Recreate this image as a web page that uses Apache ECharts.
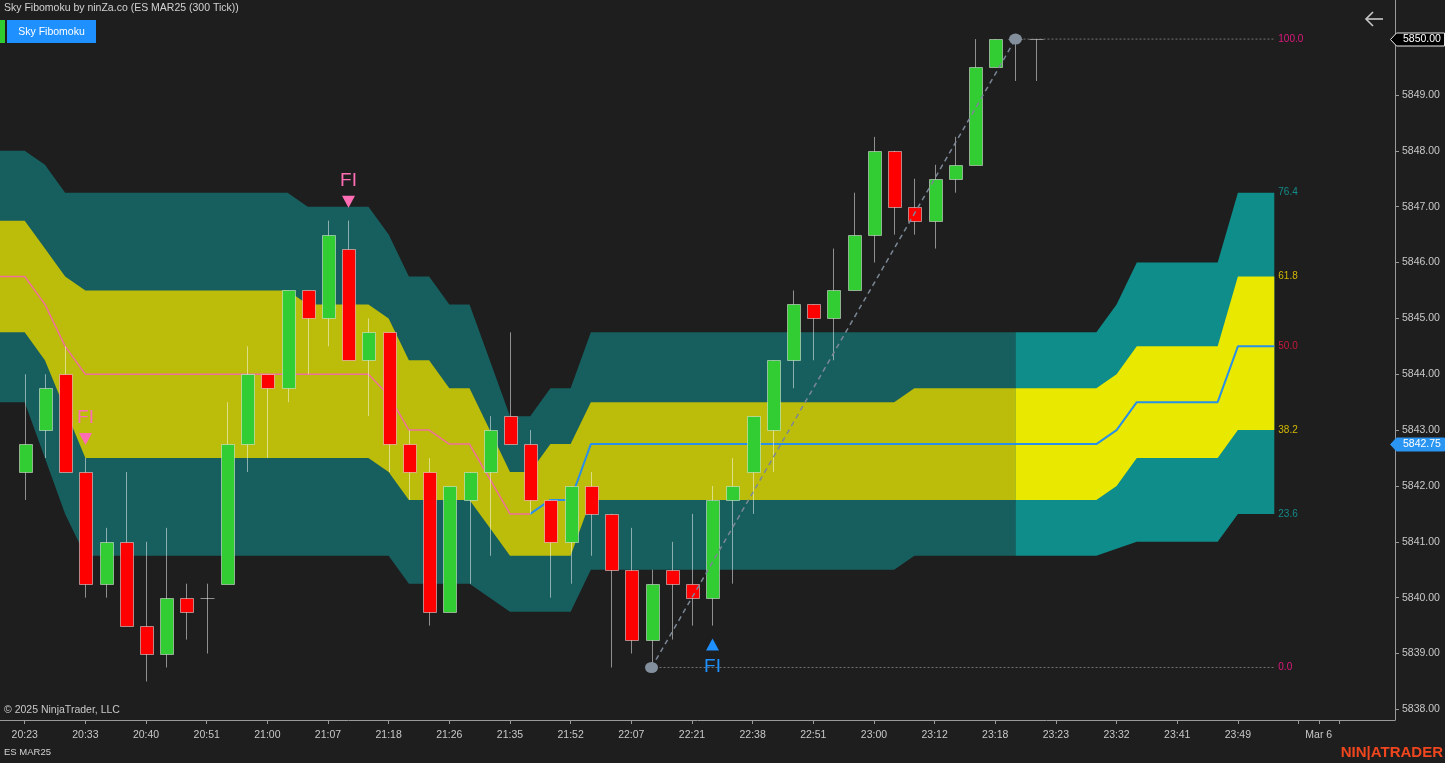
<!DOCTYPE html>
<html><head><meta charset="utf-8">
<script src="https://cdn.jsdelivr.net/npm/echarts@6/dist/echarts.min.js"></script>
<style>html,body{margin:0;padding:0;background:#1e1e1e;overflow:hidden}#c{width:1445px;height:763px}</style>
</head><body><div id="c"></div>
<script>
// ---------------- DATA ----------------
const timeLabels = ['20:23','20:33','20:40','20:51','21:00','21:07','21:18','21:26','21:35','21:52','22:07','22:21','22:38','22:51','23:00','23:12','23:18','23:23','23:32','23:41','23:49'];
const labelBars = [0,3,6,9,12,15,18,21,24,27,30,33,36,39,42,45,48,51,54,57,60];
const dateLabel = 'Mar 6';
const dateBar = 64;
const dateTickBars = [63,64,65];
const priceTicks = [5838,5839,5840,5841,5842,5843,5844,5845,5846,5847,5848,5849,5850];

const opens  = [5842.25,5843.0,5844.0,5842.25,5840.25,5841.0,5839.5,5839.0,5840.0,5840.0,5840.25,5842.75,5844.0,5843.75,5845.5,5845.0,5846.25,5844.25,5844.75,5842.75,5842.25,5839.75,5841.75,5842.25,5843.25,5842.75,5841.75,5841.0,5842.0,5841.5,5840.5,5839.25,5840.5,5840.25,5840.0,5841.75,5842.25,5843.0,5844.25,5845.25,5845.0,5845.5,5846.5,5848.0,5847.0,5846.75,5847.5,5847.75,5849.5,5850.0,5850.0];
const highs  = [5844.0,5844.0,5844.5,5842.5,5841.25,5842.25,5841.0,5841.25,5840.25,5840.25,5843.5,5844.5,5844.0,5845.5,5845.5,5846.75,5846.75,5845.0,5844.75,5843.0,5842.5,5842.0,5842.25,5843.25,5844.75,5843.0,5841.75,5842.0,5842.25,5841.5,5841.25,5840.5,5841.0,5841.5,5842.0,5842.5,5843.25,5844.25,5845.5,5845.25,5846.25,5847.25,5848.25,5848.0,5847.5,5847.75,5848.25,5850.0,5850.0,5850.0,5850.0];
const lows   = [5841.75,5842.5,5842.25,5840.0,5840.0,5839.5,5838.5,5838.75,5839.25,5839.0,5840.25,5842.25,5842.5,5843.5,5844.0,5844.5,5844.25,5843.25,5842.25,5841.75,5839.5,5839.75,5840.25,5840.75,5842.75,5841.5,5840.0,5840.25,5840.75,5838.75,5839.0,5838.75,5839.25,5839.5,5839.5,5840.25,5841.5,5842.25,5843.75,5844.25,5844.25,5845.5,5846.0,5846.5,5846.5,5846.25,5847.25,5847.75,5849.5,5849.25,5849.25];
const closes = [5842.75,5843.75,5842.25,5840.25,5841.0,5839.5,5839.0,5840.0,5839.75,5840.0,5842.75,5844.0,5843.75,5845.5,5845.0,5846.5,5844.25,5844.75,5842.75,5842.25,5839.75,5842.0,5842.25,5843.0,5842.75,5841.75,5841.0,5842.0,5841.5,5840.5,5839.25,5840.25,5840.25,5840.0,5841.75,5842.0,5843.25,5844.25,5845.25,5845.0,5845.5,5846.5,5848.0,5847.0,5846.75,5847.5,5847.75,5849.5,5850.0,5850.0,5850.0];

// Cloud (Fibonacci bands), one value per bar 0..61
const cloudTealTop = [5848.0,5847.75,
 5847.25,5847.25,5847.25,5847.25,5847.25,5847.25,5847.25,5847.25,5847.25,5847.25,5847.25,5847.25,
 5847.0,5847.0,5847.0,5847.0,5846.5,5845.75,5845.75,5845.25,5845.25,5844.25,5843.25,5843.25,5843.75,5843.75,
 5844.75,5844.75,5844.75,5844.75,5844.75,5844.75,5844.75,5844.75,5844.75,5844.75,5844.75,5844.75,5844.75,
 5844.75,5844.75,5844.75,5844.75,5844.75,5844.75,5844.75,5844.75,5844.75,5844.75,5844.75,5844.75,5844.75,
 5845.25,5846.0,5846.0,5846.0,5846.0,5846.0,5847.25,5847.25];
const cloudYellowTop = [5846.75,5846.25,5845.75,
 5845.5,5845.5,5845.5,5845.5,5845.5,5845.5,5845.5,5845.5,5845.5,5845.5,5845.5,
 5845.25,5845.25,5845.25,5845.25,5845.0,5844.25,5844.25,5843.75,5843.75,5843.0,5842.25,5842.25,5842.75,5842.75,
 5843.5,5843.5,5843.5,5843.5,5843.5,5843.5,5843.5,5843.5,5843.5,5843.5,5843.5,5843.5,5843.5,5843.5,5843.5,5843.5,
 5843.75,5843.75,5843.75,5843.75,5843.75,5843.75,5843.75,5843.75,5843.75,5843.75,
 5844.0,5844.5,5844.5,5844.5,5844.5,5844.5,5845.75,5845.75];
const cloudMid = [5845.75,5845.25,5844.5,
 5844.0,5844.0,5844.0,5844.0,5844.0,5844.0,5844.0,5844.0,5844.0,5844.0,5844.0,5844.0,5844.0,5844.0,5844.0,
 5843.625,5843.0,5843.0,5842.75,5842.75,5842.125,5841.5,5841.5,5841.75,5841.75,
 5842.75,5842.75,5842.75,5842.75,5842.75,5842.75,5842.75,5842.75,5842.75,5842.75,5842.75,5842.75,5842.75,
 5842.75,5842.75,5842.75,5842.75,5842.75,5842.75,5842.75,5842.75,5842.75,5842.75,5842.75,5842.75,5842.75,
 5843.0,5843.5,5843.5,5843.5,5843.5,5843.5,5844.5,5844.5];
const cloudYellowBottom = [5844.75,5844.25,5843.375,
 5842.5,5842.5,5842.5,5842.5,5842.5,5842.5,5842.5,5842.5,5842.5,5842.5,5842.5,5842.5,5842.5,5842.5,5842.5,
 5842.25,5841.75,5841.75,5841.75,5841.75,5841.25,5840.75,5840.75,5840.75,5840.75,
 5841.75,5841.75,5841.75,5841.75,5841.75,5841.75,5841.75,5841.75,5841.75,5841.75,5841.75,5841.75,5841.75,
 5841.75,5841.75,5841.75,5841.75,5841.75,5841.75,5841.75,5841.75,5841.75,5841.75,5841.75,5841.75,5841.75,
 5842.0,5842.5,5842.5,5842.5,5842.5,5842.5,5843.0,5843.0];
const cloudTealBottom = [5843.5,5842.5,5841.5,
 5840.75,5840.75,5840.75,5840.75,5840.75,5840.75,5840.75,5840.75,5840.75,5840.75,5840.75,5840.75,5840.75,5840.75,5840.75,5840.75,
 5840.25,5840.25,5840.25,5840.25,5840.0,5839.75,5839.75,5839.75,5839.75,
 5840.5,5840.5,5840.5,5840.5,5840.5,5840.5,5840.5,5840.5,5840.5,5840.5,5840.5,5840.5,5840.5,5840.5,5840.5,5840.5,
 5840.75,5840.75,5840.75,5840.75,5840.75,5840.75,5840.75,5840.75,5840.75,5840.75,
 5840.875,5841.0,5841.0,5841.0,5841.0,5841.0,5841.5,5841.5];

const midTrendSwitchBar = 25;     // pink before, blue after
const projectionStartBar = 49;    // brighter projected cloud
const cloudEndX = 61.8;

const fibLowBar = 31, fibLow = 5838.75;
const fibHighBar = 49, fibHigh = 5850.0;
const fibLabels = ['100.0','76.4','61.8','50.0','38.2','23.6','0.0'];
const fibLabelColors = ['#e0197d','#138c8a','#d2b800','#c8193c','#d2b800','#138c8a','#e0197d'];

const signalBars = [3,16,34];
const signalDirs = ['down','down','up'];

// ---------------- CHART ----------------
const FONT = '"Liberation Sans", Arial, sans-serif';
const lastBar = opens.length - 1;
const fibValues = [fibHigh, cloudTealTop[cloudTealTop.length-1], cloudYellowTop[cloudYellowTop.length-1],
  cloudMid[cloudMid.length-1], cloudYellowBottom[cloudYellowBottom.length-1], cloudTealBottom[cloudTealBottom.length-1], fibLow];

function bandLine(arr){
  const pts = [[-2, arr[0]]];
  arr.forEach((v,i)=>pts.push([i,v]));
  pts.push([cloudEndX, arr[arr.length-1]]);
  return pts;
}
const cloudPieces = [
  {top:cloudTealTop, bot:cloudTealBottom, from:-2, to:projectionStartBar, color:'#175f5f'},
  {top:cloudTealTop, bot:cloudTealBottom, from:projectionStartBar, to:cloudEndX, color:'#0f8d8a'},
  {top:cloudYellowTop, bot:cloudYellowBottom, from:-2, to:projectionStartBar, color:'#bcbc0a'},
  {top:cloudYellowTop, bot:cloudYellowBottom, from:projectionStartBar, to:cloudEndX, color:'#e8e800'}
];
const midLine = bandLine(cloudMid);
const midPink = midLine.filter(p=>p[0] <= midTrendSwitchBar);
const midBlue = midLine.filter(p=>p[0] >= midTrendSwitchBar);

const labelMap = {};
labelBars.forEach((b,k)=>labelMap[b]=timeLabels[k]);
labelMap[dateBar] = dateLabel;
const xLabelValues = labelBars.concat([dateBar]);
const xTickValues = labelBars.concat(dateTickBars);

const chart = echarts.init(document.getElementById('c'));
const option = {
  backgroundColor:'#1e1e1e',
  animation:false,
  grid:{left:0, right:50, top:0, bottom:43, containLabel:false},
  xAxis:{type:'value', min:-1.2216, max:67.77,
    axisLine:{show:true, onZero:false, lineStyle:{color:'#9a9a9a', width:1}},
    axisTick:{show:true, length:4, customValues:xTickValues, lineStyle:{color:'#9a9a9a'}},
    axisLabel:{customValues:xLabelValues, formatter:v=>labelMap[Math.round(v)]||'', color:'#c8c8c8', fontSize:10.5, fontFamily:FONT, margin:10},
    splitLine:{show:false}},
  yAxis:{type:'value', position:'right', min:5837.81, max:5850.70,
    axisLine:{show:true, onZero:false, lineStyle:{color:'#9a9a9a', width:1}},
    axisTick:{show:true, length:4, customValues:priceTicks, lineStyle:{color:'#9a9a9a'}},
    axisLabel:{customValues:priceTicks, formatter:v=>Number(v).toFixed(2), color:'#c8c8c8', fontSize:10.5, fontFamily:FONT, margin:7},
    splitLine:{show:false}},
  series:[
    {type:'custom', z:1, silent:true, clip:true,
     data: cloudPieces.map(p=>[p.from, p.top[0]]),
     renderItem:(params, api)=>{
       const p = cloudPieces[params.dataIndex];
       const t = bandLine(p.top).filter(q=>q[0]>=p.from && q[0]<=p.to);
       const b = bandLine(p.bot).filter(q=>q[0]>=p.from && q[0]<=p.to).reverse();
       return {type:'polygon', shape:{points:t.concat(b).map(q=>api.coord(q))}, style:{fill:p.color}};
     }},
    {type:'line', z:2, data:midPink, symbol:'none', silent:true, lineStyle:{color:'#f0709c', width:1.5}},
    {type:'line', z:2, data:midBlue, symbol:'none', silent:true, lineStyle:{color:'#2a8fe8', width:2}},
    {type:'custom', z:3, clip:false,
     data: opens.map((o,i)=>[i, o, closes[i], lows[i], highs[i]]),
     encode:{x:0, y:[1,2,3,4]},
     renderItem:(params, api)=>{
       const x = api.value(0), o = api.value(1), c = api.value(2), l = api.value(3), h = api.value(4);
       const pO = api.coord([x,o]), pC = api.coord([x,c]), pL = api.coord([x,l]), pH = api.coord([x,h]);
       const w = Math.round(api.size([1,0])[0]*0.62);
       const cx = Math.round(pO[0]);
       const wickStyle = {stroke:'rgba(255,255,255,0.5)', lineWidth:1};
       const children = [{type:'line', shape:{x1:cx+0.5, y1:pH[1], x2:cx+0.5, y2:pL[1]}, style:wickStyle}];
       if (c === o) {
         const yy = Math.round(pO[1])+0.5;
         children.push({type:'line', shape:{x1:cx-w/2, y1:yy, x2:cx+w/2+1, y2:yy}, style:wickStyle});
       } else {
         const top = Math.round(Math.min(pO[1],pC[1]));
         const bot = Math.round(Math.max(pO[1],pC[1]));
         children.push({type:'rect', shape:{x:cx-Math.floor(w/2)+0.5, y:top+0.5, width:w, height:bot-top},
           style:{fill: c>o ? '#32cd32' : '#ff0000', stroke:'rgba(230,230,230,0.55)', lineWidth:1}});
       }
       return {type:'group', children};
     }},
    {type:'line', z:4, symbol:'none', silent:true, data:[[fibLowBar,fibLow],[fibHighBar,fibHigh]],
     lineStyle:{color:'#7b8796', width:1.5, type:[5,4]}},
    {type:'line', z:4, symbol:'none', silent:true, data:[[fibHighBar,fibHigh],[cloudEndX,fibHigh]],
     lineStyle:{color:'rgba(150,150,150,0.7)', width:1, type:[2,2]}},
    {type:'line', z:4, symbol:'none', silent:true, data:[[fibLowBar,fibLow],[cloudEndX,fibLow]],
     lineStyle:{color:'rgba(150,150,150,0.7)', width:1, type:[2,2]}},
    {type:'scatter', z:5, silent:true, symbol:'circle', symbolSize:[13,11],
     data:[[fibLowBar,fibLow],[fibHighBar,fibHigh]], itemStyle:{color:'#838f9c', opacity:1}},
    {type:'custom', z:6, clip:false, silent:true,
     data: signalBars.map(b=>[b, signalDirs[signalBars.indexOf(b)]==='down' ? highs[b] : lows[b]]),
     renderItem:(params, api)=>{
       const down = signalDirs[params.dataIndex]==='down';
       const p = api.coord([api.value(0), api.value(1)]);
       const col = down ? '#ff6eb4' : '#1e90ff';
       const x = Math.round(p[0])+0.5;
       let tri, ty;
       if (down) { tri = [[x-6.5,p[1]-25],[x+6.5,p[1]-25],[x,p[1]-13]]; ty = p[1]-40; }
       else { tri = [[x-6.5,p[1]+25],[x+6.5,p[1]+25],[x,p[1]+13]]; ty = p[1]+41; }
       return {type:'group', children:[
         {type:'polygon', shape:{points:tri}, style:{fill:col}},
         {type:'text', x:x, y:ty, style:{text:'FI', fill:col, font:'19px '+FONT, align:'center', verticalAlign:'middle'}}
       ]};
     }},
    {type:'custom', z:6, clip:false, silent:true,
     data: fibValues.map((v,i)=>[cloudEndX, v, i]),
     renderItem:(params, api)=>{
       const p = api.coord([api.value(0), api.value(1)]);
       const i = params.dataIndex;
       return {type:'text', x:p[0]+4, y:p[1], style:{text:fibLabels[i], fill:fibLabelColors[i], font:'10px '+FONT, align:'left', verticalAlign:'middle'}};
     }},
    {type:'custom', z:7, clip:false, silent:true,
     data: [[lastBar, closes[lastBar], 0],[lastBar, cloudMid[lastBar], 1]],
     renderItem:(params, api)=>{
       const cs = params.coordSys;
       const ax = cs.x + cs.width;
       const y = Math.round(api.coord([api.value(0), api.value(1)])[1]) + 0.5;
       const blue = params.dataIndex === 1;
       const pts = [[ax-4.5,y],[ax+1.5,y-6.5],[1444.5,y-6.5],[1444.5,y+6.5],[ax+1.5,y+6.5]];
       return {type:'group', children:[
         {type:'polygon', shape:{points:pts}, style:{fill: blue ? '#2b95f2' : '#000000', stroke: blue ? '#2b95f2' : '#e8e8e8', lineWidth:1}},
         {type:'text', x:ax+8, y:y, style:{text:Number(api.value(1)).toFixed(2), fill:'#ffffff', font:'10.5px '+FONT, align:'left', verticalAlign:'middle'}}
       ]};
     }}
  ],
  graphic:[
    {type:'text', left:4, top:3, style:{text:'Sky Fibomoku by ninZa.co (ES MAR25 (300 Tick))', fill:'#d2d2d2', font:'10.5px '+FONT}},
    {type:'rect', shape:{x:0, y:20, width:5, height:23}, style:{fill:'#2ecc2e'}},
    {type:'rect', shape:{x:7, y:20, width:89, height:23}, style:{fill:'#1e90ff'}},
    {type:'text', x:51.5, y:32, style:{text:'Sky Fibomoku', fill:'#ffffff', font:'10.5px '+FONT, align:'center', verticalAlign:'middle'}},
    {type:'polyline', shape:{points:[[1373,12],[1366,19],[1373,26]]}, style:{stroke:'#c8c8c8', lineWidth:1.6, fill:null}},
    {type:'line', shape:{x1:1366, y1:19, x2:1383, y2:19}, style:{stroke:'#c8c8c8', lineWidth:1.6}},
    {type:'text', x:4, y:710, style:{text:'\u00a9 2025 NinjaTrader, LLC', fill:'#c8c8c8', font:'10.5px '+FONT, verticalAlign:'middle'}},
    {type:'text', x:4, y:752, style:{text:'ES MAR25', fill:'#d2d2d2', font:'9.5px '+FONT, verticalAlign:'middle'}},
    {type:'text', x:1443, y:753, style:{text:'NIN|ATRADER', fill:'#f0461e', font:'bold 15px '+FONT, align:'right', verticalAlign:'middle'}}
  ]
};
chart.setOption(option);
</script></body></html>
